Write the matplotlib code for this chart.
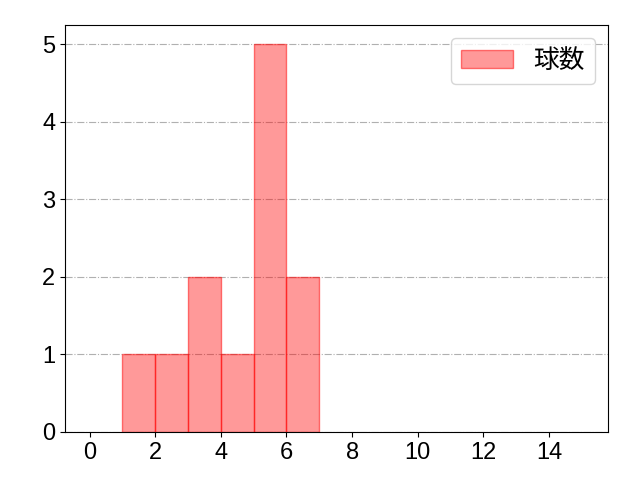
import matplotlib
matplotlib.use("Agg")
import matplotlib.pyplot as plt
import numpy as np

plt.rcParams['font.family'] = ['Liberation Sans', 'Noto Sans CJK JP', 'DejaVu Sans']

bin_edges = [1, 2, 3, 4, 5, 6, 7]
counts = [1, 1, 2, 1, 5, 2]
label = "球数"

fig, ax = plt.subplots(figsize=(6.4, 4.8), dpi=100)
ax.hist(bin_edges[:-1], bins=bin_edges, weights=counts, color=(1, 0, 0, 0.4),
        edgecolor=(1, 0, 0, 0.5), linewidth=1, label=label)
ax.set_xlim(-0.75, 15.8)
ax.set_ylim(0, 5.25)
ax.set_xticks(np.arange(0, 15, 2))
ax.set_yticks(np.arange(0, 6, 1))
ax.tick_params(labelsize=17)
ax.grid(axis='y', linestyle='-.', color='#b0b0b0', linewidth=0.8)
ax.set_axisbelow(True)
leg = ax.legend(loc='upper right', prop={'family': ['Noto Sans CJK JP'], 'size': 18.5})
fig.subplots_adjust(left=65/640, right=608/640, top=1-25/480, bottom=1-432/480)
fig.savefig("out.png")
